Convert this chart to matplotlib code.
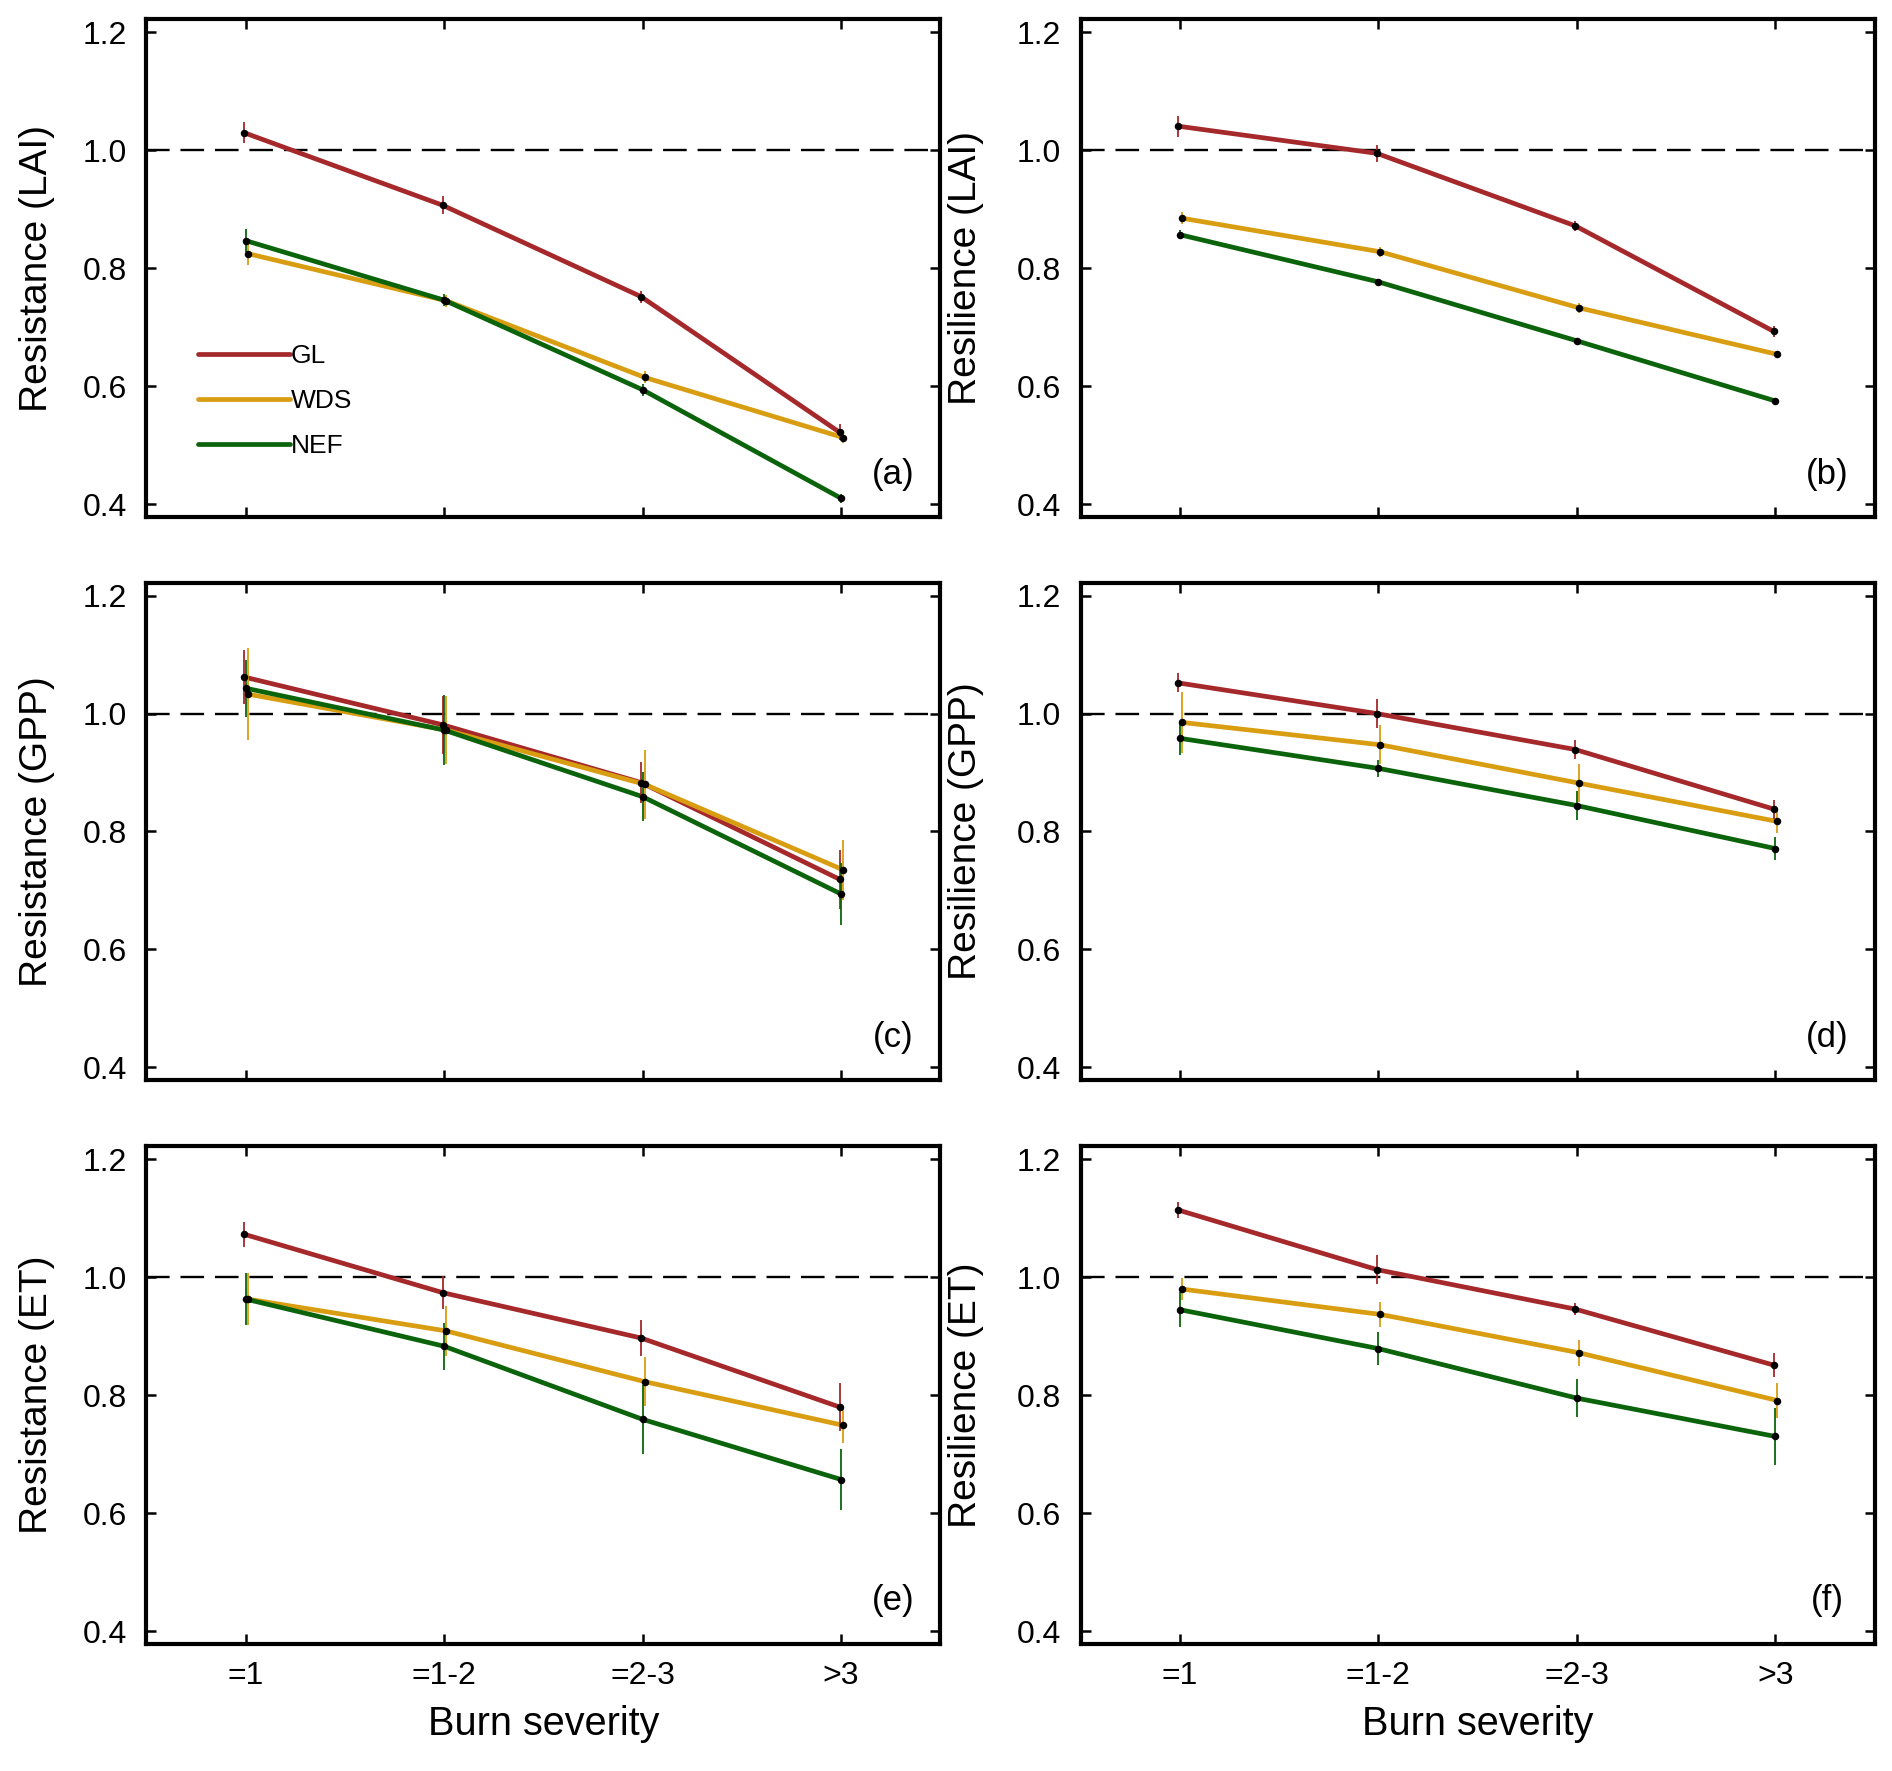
import matplotlib
matplotlib.use("Agg")
import matplotlib.pyplot as plt

plt.rcParams["font.family"] = ["Liberation Sans", "DejaVu Sans"]

# burn severity classes on the x axis
categories = ["=1", "=1-2", "=2-3", ">3"]
groups = ["GL", "WDS", "NEF"]

# (a) resistance, LAI
res_lai_gl = [1.030, 0.907, 0.752, 0.522]
res_lai_gl_err = [0.018, 0.015, 0.010, 0.014]
res_lai_wds = [0.825, 0.745, 0.615, 0.513]
res_lai_wds_err = [0.019, 0.010, 0.010, 0.010]
res_lai_nef = [0.847, 0.746, 0.594, 0.410]
res_lai_nef_err = [0.020, 0.010, 0.010, 0.008]

# (b) resilience, LAI
rsl_lai_gl = [1.041, 0.995, 0.872, 0.693]
rsl_lai_gl_err = [0.018, 0.014, 0.008, 0.010]
rsl_lai_wds = [0.885, 0.828, 0.733, 0.654]
rsl_lai_wds_err = [0.010, 0.008, 0.008, 0.005]
rsl_lai_nef = [0.857, 0.777, 0.677, 0.575]
rsl_lai_nef_err = [0.008, 0.005, 0.004, 0.005]

# (c) resistance, GPP
res_gpp_gl = [1.062, 0.981, 0.883, 0.719]
res_gpp_gl_err = [0.046, 0.049, 0.035, 0.050]
res_gpp_wds = [1.033, 0.972, 0.880, 0.735]
res_gpp_wds_err = [0.078, 0.058, 0.058, 0.051]
res_gpp_nef = [1.043, 0.972, 0.859, 0.694]
res_gpp_nef_err = [0.048, 0.060, 0.042, 0.052]

# (d) resilience, GPP
rsl_gpp_gl = [1.052, 1.000, 0.939, 0.838]
rsl_gpp_gl_err = [0.016, 0.024, 0.016, 0.016]
rsl_gpp_wds = [0.985, 0.947, 0.882, 0.817]
rsl_gpp_wds_err = [0.052, 0.033, 0.032, 0.020]
rsl_gpp_nef = [0.958, 0.907, 0.844, 0.771]
rsl_gpp_nef_err = [0.028, 0.015, 0.024, 0.019]

# (e) resistance, ET
res_et_gl = [1.073, 0.974, 0.897, 0.780]
res_et_gl_err = [0.021, 0.028, 0.031, 0.040]
res_et_wds = [0.963, 0.909, 0.823, 0.749]
res_et_wds_err = [0.044, 0.043, 0.042, 0.030]
res_et_nef = [0.963, 0.883, 0.759, 0.657]
res_et_nef_err = [0.044, 0.040, 0.058, 0.052]

# (f) resilience, ET
rsl_et_gl = [1.114, 1.013, 0.946, 0.851]
rsl_et_gl_err = [0.013, 0.024, 0.010, 0.020]
rsl_et_wds = [0.980, 0.937, 0.872, 0.791]
rsl_et_wds_err = [0.019, 0.021, 0.022, 0.030]
rsl_et_nef = [0.945, 0.879, 0.795, 0.730]
rsl_et_nef_err = [0.030, 0.028, 0.032, 0.048]

panels = [
    ("Resistance (LAI)", "(a)", [res_lai_gl, res_lai_wds, res_lai_nef],
     [res_lai_gl_err, res_lai_wds_err, res_lai_nef_err]),
    ("Resilience (LAI)", "(b)", [rsl_lai_gl, rsl_lai_wds, rsl_lai_nef],
     [rsl_lai_gl_err, rsl_lai_wds_err, rsl_lai_nef_err]),
    ("Resistance (GPP)", "(c)", [res_gpp_gl, res_gpp_wds, res_gpp_nef],
     [res_gpp_gl_err, res_gpp_wds_err, res_gpp_nef_err]),
    ("Resilience (GPP)", "(d)", [rsl_gpp_gl, rsl_gpp_wds, rsl_gpp_nef],
     [rsl_gpp_gl_err, rsl_gpp_wds_err, rsl_gpp_nef_err]),
    ("Resistance (ET)", "(e)", [res_et_gl, res_et_wds, res_et_nef],
     [res_et_gl_err, res_et_wds_err, res_et_nef_err]),
    ("Resilience (ET)", "(f)", [rsl_et_gl, rsl_et_wds, rsl_et_nef],
     [rsl_et_gl_err, rsl_et_wds_err, rsl_et_nef_err]),
]

colors = ["#a5282b", "#d99d12", "#0b640b"]
# tiny horizontal nudges so the error bars don't sit exactly on top of each other
nudge = [-0.008, 0.010, 0.0]

fig = plt.figure(figsize=(18.92, 17.71), dpi=100)

col_left = [0.0774, 0.5712]
col_w = 0.4196
row_bottom = [0.708, 0.390, 0.0717]
row_h = 0.281
ylab_x = [-0.115, -0.122]

x = list(range(1, len(categories) + 1))

for i, (ylab, tag, series, errs) in enumerate(panels):
    r, c = divmod(i, 2)
    ax = fig.add_axes([col_left[c], row_bottom[r], col_w, row_h])

    ax.axhline(1.0, color="black", lw=1.7, dashes=(10, 4.6), zorder=1)

    for k, (vals, err) in enumerate(zip(series, errs)):
        xs = [v + nudge[k] for v in x]
        ax.plot(xs, vals, color=colors[k], lw=3.4, label=groups[k],
                solid_capstyle="round", zorder=2 + k)
        ax.errorbar(xs, vals, yerr=err, fmt="none", ecolor=colors[k],
                    elinewidth=1.3, capsize=0, zorder=5)
        ax.plot(xs, vals, "o", color="black", ms=4.4, zorder=6)

    ax.set_xlim(0.5, 4.5)
    ax.set_ylim(0.378, 1.222)
    ax.set_yticks([0.4, 0.6, 0.8, 1.0, 1.2])
    ax.set_yticklabels(["0.4", "0.6", "0.8", "1.0", "1.2"])
    ax.set_xticks(x)
    if r == 2:
        ax.set_xticklabels(categories)
        ax.set_xlabel("Burn severity", fontsize=28.5, labelpad=10)
    else:
        ax.set_xticklabels([])

    ax.tick_params(axis="both", direction="in", top=True, right=True,
                   length=7, width=1.8, labelsize=23)
    ax.tick_params(axis="y", pad=14)
    ax.tick_params(axis="x", pad=12)
    for sp in ax.spines.values():
        sp.set_linewidth(3.0)

    ax.set_ylabel(ylab, fontsize=28)
    ax.yaxis.set_label_coords(ylab_x[c], 0.5)

    ax.text(0.940, 0.0865, tag, transform=ax.transAxes, fontsize=25,
            ha="center", va="center")

    if i == 0:
        ax.legend(loc="center left", bbox_to_anchor=(0.065, 0.233),
                  frameon=False, fontsize=19, handlelength=3.5,
                  handletextpad=0.0, labelspacing=0.8, borderpad=0,
                  borderaxespad=0)

fig.savefig("out.png", dpi=100)
plt.close(fig)
